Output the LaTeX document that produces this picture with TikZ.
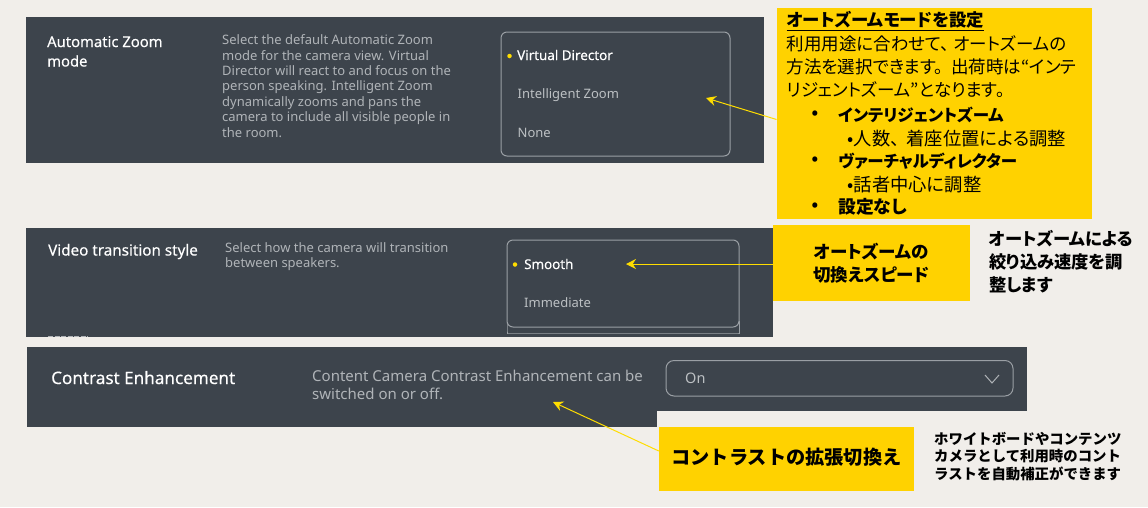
\documentclass[tikz,border=0pt]{standalone}
\usepackage{fontspec}
\setmainfont{Noto Sans}
\newfontfamily\medf[FakeBold=0.25]{Noto Sans}
\newfontfamily\jp[RawFeature=+palt]{Noto Sans CJK JP}
\newfontfamily\jpf{Noto Sans CJK JP}
\usetikzlibrary{arrows.meta,calc}
\definecolor{bgc}{HTML}{F1EEEA}
\definecolor{panelc}{HTML}{3D444C}
\definecolor{yelc}{HTML}{FFD200}
\definecolor{arrowc}{HTML}{FFDD00}
\definecolor{descc}{HTML}{B0B4B8}
\definecolor{optc}{HTML}{BCC0C3}
\definecolor{edgec}{HTML}{9A9FA4}
\tikzset{
  panel/.style={fill=panelc,draw=none},
  optbox/.style={draw=edgec,line width=1pt,rounded corners=6pt},
  yelbox/.style={fill=yelc,draw=none},
  ttl/.style={anchor=base west,inner sep=0,text=white,align=left},
  dsc/.style={anchor=north west,inner sep=0,text=descc,align=left},
  sel/.style={anchor=base west,inner sep=0,text=white,font=\medf\fontsize{13.4}{16}\selectfont},
  opt/.style={anchor=base west,inner sep=0,text=optc,font=\fontsize{13}{16}\selectfont},
  dot/.style={circle,fill=arrowc,inner sep=0,minimum size=4.5pt},
  callout/.style={draw=arrowc,line width=1pt,-{Stealth[length=10pt,width=10pt]}},
  jpb/.style={inner sep=0,text=black,align=center},
  jpl/.style={anchor=west,inner sep=0,text=black},
}
\begin{document}
\begin{tikzpicture}[x=1pt,y=-1pt]
\useasboundingbox (0,0) rectangle (1148,507);
\fill[bgc] (0,0) rectangle (1148,507);
% panel 1
\path[panel] (25.5,17) rectangle (764,163);
\node[ttl,font=\medf\fontsize{14.8}{19.5}\selectfont] (t1) at (47,66.5) {Automatic Zoom\\mode};
\node[dsc,font=\fontsize{13}{15.4}\selectfont] (d1) at (222,34.5) {Select the default Automatic Zoom\\mode for the camera view. Virtual\\Director will react to and focus on the\\person speaking. Intelligent Zoom\\dynamically zooms and pans the\\camera to include all visible people in\\the room.};
\draw[optbox] (501,32) rectangle (730,156);
\node[dot] (p1) at (509.5,56) {};
\node[sel] (o11) at (517,60) {Virtual Director};
\node[opt] (o12) at (517.5,98.5) {Intelligent Zoom};
\node[opt] (o13) at (517.5,137) {None};
% panel 2
\path[panel] (25.5,228) rectangle (773,337);
\node[ttl,font=\medf\fontsize{15.2}{19}\selectfont] (t2) at (48,255.5) {Video transition style};
\node[dsc,font=\fontsize{13}{15.4}\selectfont] (d2) at (225,242.5) {Select how the camera will transition\\between speakers.};
\draw[optbox] (507,322) -- (507,327) .. controls (507,333) and (510,333) .. (514,333) -- (732,333) .. controls (736,333) and (739,333) .. (739,327) -- (739,322);
\draw[optbox,fill=panelc] (507,240) rectangle (739,327);
\node[dot] (p2) at (515,264.5) {};
\node[sel] (o21) at (524,269) {Smooth};
\node[opt] (o22) at (524,307.5) {Immediate};
\draw[descc,line width=1pt,dash pattern=on 5pt off 1.5pt] (48,336) -- (88,336);
% panel 3
\path[panel] (27,347) rectangle (657,427);
\path[panel] (657,347) rectangle (1027,411);
\node[ttl,font=\medf\fontsize{17.1}{20}\selectfont] (t3) at (51,384) {Contrast Enhancement};
\node[dsc,font=\fontsize{15}{18.3}\selectfont] (d3) at (312,369.5) {Content Camera Contrast Enhancement can be\\switched on or off.};
\draw[optbox,rounded corners=8pt] (666,360.5) rectangle (1013,396);
\node[opt,font=\fontsize{14.5}{18}\selectfont] (o31) at (685,383.5) {On};
\draw[edgec!80!white,line width=1pt] (985,375) -- (992,383) -- (999,375);
% yellow boxes
\node[yelbox,minimum width=315pt,minimum height=211pt,inner sep=0] (y1) at (934.25,113.5) {};
\node[yelbox,minimum width=197pt,minimum height=76pt,inner sep=0] (y2) at (871.5,263) {};
\node[yelbox,minimum width=255pt,minimum height=64pt,inner sep=0] (y3) at (786.5,459) {};
% box 1 text
\node[anchor=north west,inner sep=0,text=black,font=\jp\fontsize{17.5}{23.2}\selectfont,align=left] (y1a) at (786.5,11.5) {\textbf{\fontsize{17.4}{23.2}\selectfont\underline{オートズームモードを設定}}\\利用用途に合わせて、\hspace{4pt}オートズームの\\方法を選択できます。\hspace{8pt}出荷時は“インテ\\リジェントズーム”となります。};
\node[jpl,font=\jp\fontsize{16.5}{20}\selectfont\bfseries] (y1b) at (838,115) {インテリジェントズーム};
\node[jpl,font=\jp\fontsize{18.3}{20}\selectfont] (y1c) at (847.5,138.5) {•人数、\hspace{7pt}着座位置による調整};
\node[jpl,font=\jp\fontsize{16.5}{20}\selectfont\bfseries] (y1d) at (838,161) {ヴァーチャルディレクター};
\node[jpl,font=\jp\fontsize{18.3}{20}\selectfont] (y1e) at (847.5,184.5) {•話者中心に調整};
\node[jpl,font=\jp\fontsize{17.8}{20}\selectfont\bfseries] (y1f) at (838,207) {設定なし};
\node[inner sep=0,font=\jp\fontsize{16.5}{20}\selectfont\bfseries] (b1) at (815,115) {•};
\node[inner sep=0,font=\jp\fontsize{16.5}{20}\selectfont\bfseries] (b2) at (815,161) {•};
\node[inner sep=0,font=\jp\fontsize{16.5}{20}\selectfont\bfseries] (b3) at (815,207) {•};
% box 2, 3 text
\node[jpb,font=\jp\bfseries\fontsize{17.5}{23}\selectfont] (y2t) at (871.5,263.5) {オートズームの\\切換えスピード};
\node[jpb,font=\jpf\bfseries\fontsize{19.2}{24}\selectfont] (y3t) at (786.5,457) {コントラストの拡張切換え};
% side notes
\node[anchor=north west,inner sep=0,align=left,font=\jp\bfseries\fontsize{17.3}{23}\selectfont] (n1) at (989,230) {オートズームによる\\絞り込み速度を調\\整します};
\node[anchor=north west,inner sep=0,align=left,font=\jpf\bfseries\fontsize{14.4}{17.5}\selectfont] (n2) at (934,432) {ホワイトボードやコンテンツ\\カメラとして利用時のコント\\ラストを自動補正ができます};
% connectors
\coordinate (a1) at (706,98);
\coordinate (a2) at (626,264);
\coordinate (a3) at (553,402);
\draw[callout] ([yshift=-6pt]y1.west) -- (a1);
\draw[callout] (y2.west |- a2) -- (a2);
\draw[callout] ([yshift=8pt]y3.west) -- (a3);
\end{tikzpicture}
\end{document}
